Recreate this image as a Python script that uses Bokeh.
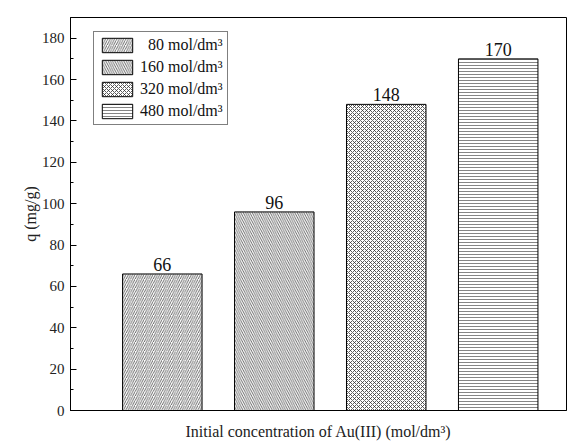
from bokeh.plotting import figure
from bokeh.models import ColumnDataSource, Range1d, SingleIntervalTicker, FixedTicker, Legend, LegendItem
from bokeh.core.properties import value
from bokeh.embed import file_html
from bokeh.resources import INLINE

# Adsorption capacity at each initial Au(III) concentration
concentrations = ["80", "160", "320", "480"]
q_values = [66, 96, 148, 170]
legend_labels = ["\u200780 mol/dm\u00b3", "160 mol/dm\u00b3", "320 mol/dm\u00b3", "480 mol/dm\u00b3"]
hatches = ["/", "\\", "x", "-"]
hatch_scales = [4.5, 4.5, 4, 3]
hatch_colors = ["#444444", "#444444", "#333333", "#666666"]

FONT = "Liberation Serif"

p = figure(width=582, height=444, output_backend="svg", toolbar_location=None,
           x_range=Range1d(0.18, 4.61), y_range=Range1d(0, 190),
           min_border_left=70, min_border_right=16, min_border_top=17, min_border_bottom=34)

p.outline_line_color = "black"
p.outline_line_width = 1
p.xgrid.visible = False
p.ygrid.visible = False
p.background_fill_color = "white"
p.border_fill_color = "white"

xs = [1, 2, 3, 4]
items = []
for i, (x, q) in enumerate(zip(xs, q_values)):
    src = ColumnDataSource(dict(x=[x], top=[q]))
    r = p.vbar(x="x", top="top", width=0.71, bottom=0, source=src,
               fill_color="white", line_color="black", line_width=1,
               hatch_pattern=hatches[i], hatch_color=hatch_colors[i],
               hatch_scale=hatch_scales[i], hatch_weight=0.8)
    items.append(LegendItem(label=legend_labels[i], renderers=[r]))

lab = ColumnDataSource(dict(x=xs, y=q_values, t=[str(v) for v in q_values]))
p.text(x="x", y="y", text="t", source=lab, text_align="center", text_baseline="bottom",
       y_offset=-3, text_font=value(FONT), text_font_size="18px", text_color="#111111")

legend = Legend(items=items, location=(23, 285))
legend.label_text_font = FONT
legend.label_text_font_size = "16px"
legend.label_text_color = "#111111"
legend.glyph_width = 38
legend.glyph_height = 18
legend.spacing = 4
legend.padding = 4
legend.margin = 0
legend.label_standoff = 4
legend.border_line_color = "black"
legend.border_line_width = 1
legend.background_fill_alpha = 1
p.add_layout(legend, "center")

# y axis: major every 20, one minor in between, ticks pointing inward
ya = p.yaxis[0]
ya.ticker = SingleIntervalTicker(interval=20, num_minor_ticks=2)
ya.major_tick_in = 6
ya.major_tick_out = 0
ya.minor_tick_in = 3
ya.minor_tick_out = 0
ya.axis_line_color = "black"
ya.major_label_text_font = FONT
ya.major_label_text_font_size = "15px"
ya.major_label_text_color = "#222222"
ya.major_label_standoff = 6
ya.axis_label = "q (mg/g)"
ya.axis_label_text_font = FONT
ya.axis_label_text_font_style = "normal"
ya.axis_label_text_font_size = "16px"
ya.axis_label_text_color = "#222222"
ya.axis_label_standoff = 0

xa = p.xaxis[0]
xa.ticker = FixedTicker(ticks=[])
xa.major_tick_in = 0
xa.major_tick_out = 0
xa.minor_tick_in = 0
xa.minor_tick_out = 0
xa.axis_line_color = "black"
xa.axis_label = "Initial concentration of Au(III) (mol/dm\u00b3)"
xa.axis_label_text_font = FONT
xa.axis_label_text_font_style = "normal"
xa.axis_label_text_font_size = "16px"
xa.axis_label_text_color = "#222222"
xa.axis_label_standoff = 12

open("out.html", "w").write(file_html(p, INLINE))
